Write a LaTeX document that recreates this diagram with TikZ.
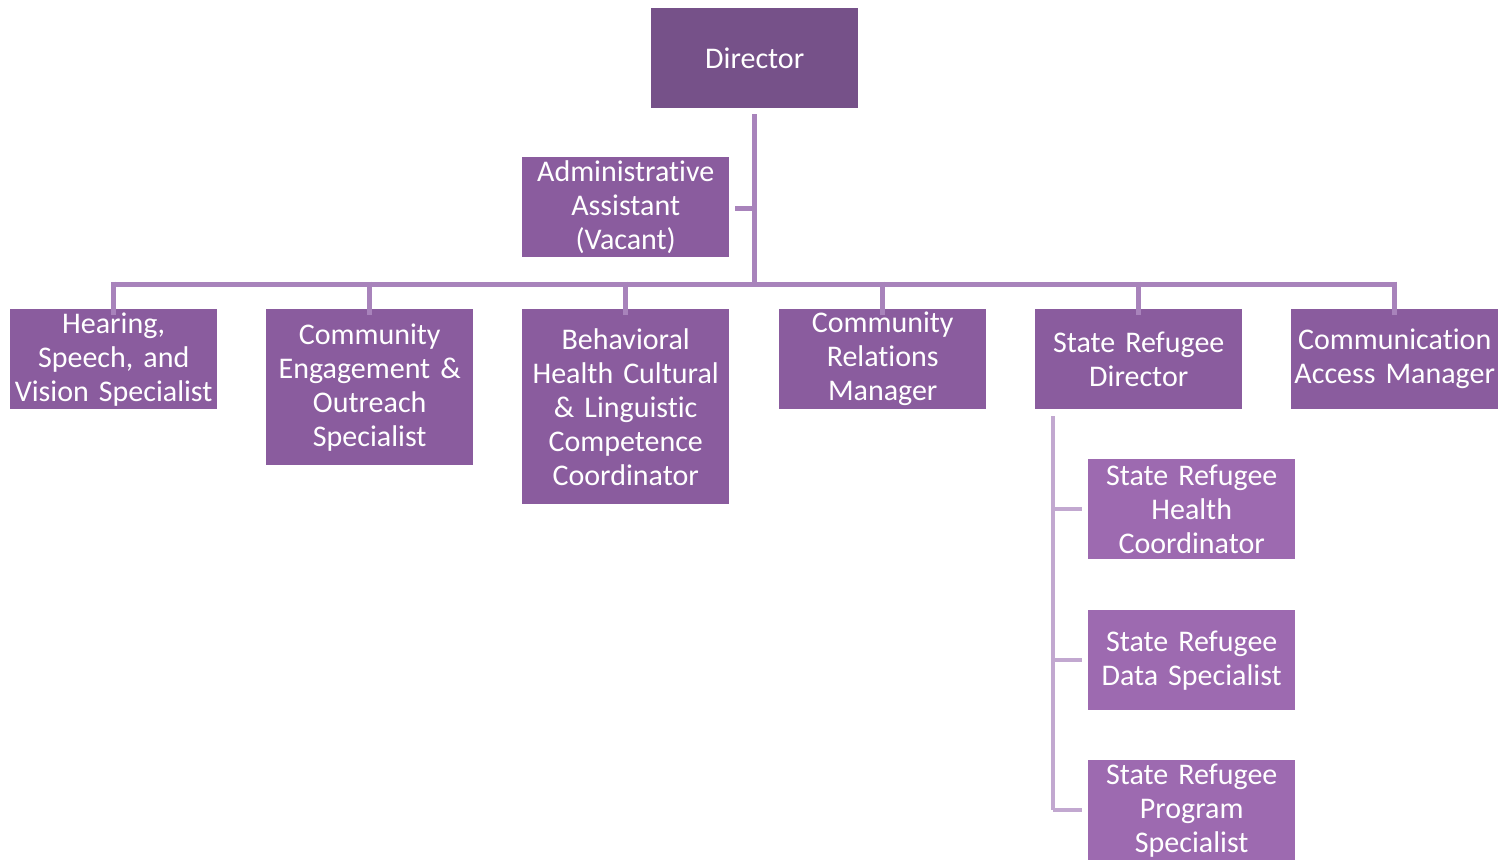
\documentclass[tikz,border=0pt]{standalone}
\usepackage{fontspec}
\setmainfont{Carlito}[Ligatures=NoCommon,WordSpace=0.8]
\definecolor{topbox}{HTML}{765189}
\definecolor{midbox}{HTML}{8A5C9E}
\definecolor{subbox}{HTML}{9D6AB0}
\definecolor{mainline}{HTML}{A883BB}
\definecolor{subline}{HTML}{C2A8D0}
\begin{document}
\begin{tikzpicture}[x=1pt,y=-1pt,
  box/.style={anchor=north west,inner sep=0pt,minimum width=207pt,
    minimum height=100pt,text width=207pt,align=center,text=white,
    font=\fontsize{30}{34}\selectfont},
  topcol/.style={fill=topbox},
  midcol/.style={fill=midbox},
  subcol/.style={fill=subbox},
  link/.style={draw=mainline,line width=5pt},
  sublink/.style={draw=subline,line width=4pt}]
\useasboundingbox (0,0) rectangle (1503,859);

% top of the chart
\node[box,topcol,minimum width=206pt] (dir) at (651,8) {Director};
\node[box,midcol] (adm) at (522,157) {Administrative\\Assistant\\(Vacant)};

% second level
\node[box,midcol,minimum width=206pt] (hsv) at (10,309) {Hearing,\\Speech, and\\Vision Specialist};
\node[box,midcol,minimum height=156pt] (ceo) at (266,309) {Community\\Engagement \&\\Outreach\\Specialist};
\node[box,midcol,minimum height=195pt] (bhc) at (522,309) {Behavioral\\Health Cultural\\\& Linguistic\\Competence\\Coordinator};
\node[box,midcol,minimum width=206pt] (crm) at (779,309) {Community\\Relations\\Manager};
\node[box,midcol,minimum width=206pt] (srd) at (1035,309) {State Refugee\\Director};
\node[box,midcol] (cam) at (1291,309) {Communication\\Access Manager};

% refugee team
\node[box,subcol] (srh) at (1088,459) {State Refugee\\Health\\Coordinator};
\node[box,subcol] (srs) at (1088,610) {State Refugee\\Data Specialist};
\node[box,subcol] (srp) at (1088,760) {State Refugee\\Program\\Specialist};

% connector junctions
\coordinate (trunktop) at (754,114);
\coordinate (bus) at (754,284);
\coordinate (admstub) at (735,208);
\coordinate (subtop) at (1053,416);
\coordinate (subbot) at (1053,810);

\draw[link] (trunktop) -- (bus);
\draw[link] (admstub) -- (admstub -| bus);
\draw[link] (113,284) -- (1395,284);
\foreach \n in {hsv,ceo,bhc,crm,srd,cam}
  \draw[link] (\n.north |- bus) ++(0,-2.5) -- ([yshift=-6pt]\n.north);

\draw[sublink] (subtop) -- (subbot);
\foreach \n in {srh,srs,srp}
  \draw[sublink] (\n.west -| subtop) -- ([xshift=-6pt]\n.west);
\end{tikzpicture}
\end{document}
